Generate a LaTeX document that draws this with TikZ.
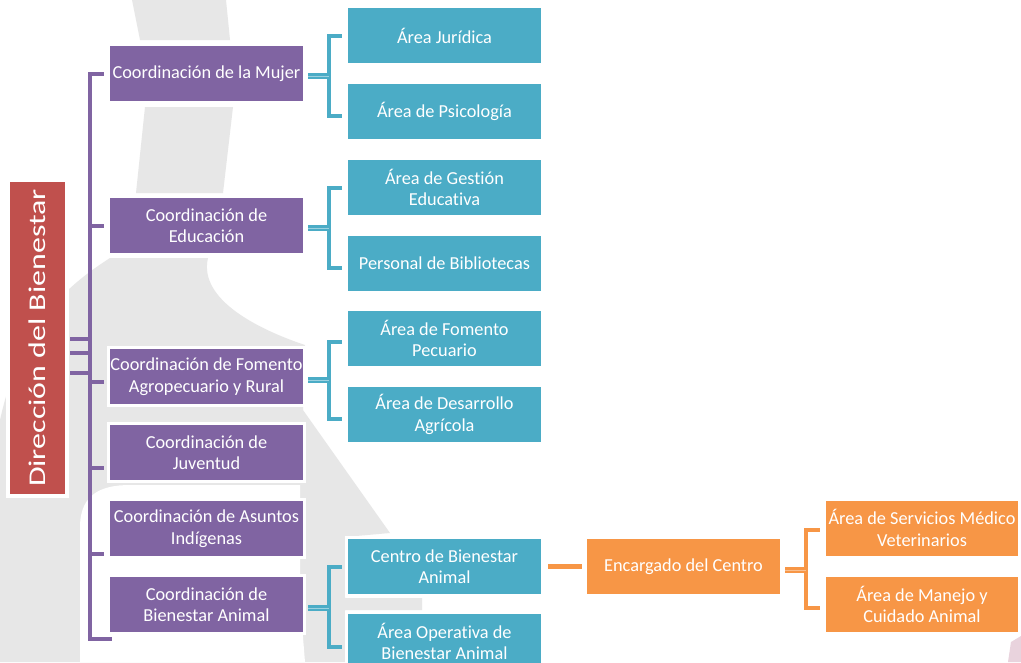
\documentclass[tikz,border=0pt]{standalone}
\usepackage{fontspec}
\setmainfont{Carlito}[Ligatures=NoCommon]
\usetikzlibrary{calc}
\definecolor{cpur}{HTML}{8064A2}
\definecolor{ctea}{HTML}{4BACC6}
\definecolor{cora}{HTML}{F79646}
\definecolor{cred}{HTML}{C0504D}
\definecolor{cwm}{HTML}{E7E7E7}
\definecolor{cpink}{HTML}{E9D3DD}
\begin{document}
\begin{tikzpicture}[x=1pt,y=-1pt,
  box/.style={rectangle, inner sep=0pt, minimum width=193pt, minimum height=55pt,
    align=center, text=white, font=\fontsize{18.3}{21.5}\selectfont,
    preaction={draw=white,line width=6pt}},
  pbox/.style={box, fill=cpur},
  tbox/.style={box, fill=ctea},
  obox/.style={box, fill=cora},
  rootbox/.style={rectangle, inner sep=0pt, minimum width=312pt, minimum height=55pt,
    fill=cred, text=white, preaction={draw=white,line width=8pt}},
  pline/.style={draw=cpur, line width=4pt},
  tline/.style={draw=ctea, line width=4pt},
  oline/.style={draw=cora, line width=4.5pt},
  tfeed/.style={draw=ctea, line width=2.5pt, double=ctea!55!white, double distance=0.8pt},
  ofeed/.style={draw=cora, line width=2.5pt, double=cora!60!white, double distance=0.8pt}]
\useasboundingbox (0,0) rectangle (1021,662);
\clip (0,0) rectangle (1021,662);
\fill[white] (0,0) rectangle (1021,662);
% watermark
\fill[cwm] (132,0) -- (226,0) -- (230,40) -- (140,40) -- cycle;
\fill[cwm] (145,107) -- (233,107) -- (223,193) -- (136,193) -- cycle;
\fill[cwm] (110,258) -- (208,258) .. controls (198,300) and (260,330) .. (305,345)
  -- (303,410) -- (390,533) -- (345,537) -- (345,598) -- (422,598) -- (422,610)
  -- (345,610) -- (345,662) -- (0,662) -- (0,420) .. controls (20,330) and (60,290) .. (110,258) -- cycle;
\fill[white] (80,662) -- (80,525) .. controls (81,495) and (100,485) .. (130,485)
  -- (300,485) -- (300,600) -- (305,662) -- cycle;
\fill[cpink] (1008,662) -- (1011,642) -- (1021,636) -- (1021,662) -- cycle;

% root
\node[rootbox, rotate=90] (root) at (37.5,338)
  {\raisebox{1pt}{\scalebox{1.33}[1]{\fontsize{24}{24}\selectfont Dirección del Bienestar}}};

% purple level
\node[pbox] (m1) at (206.5,73.5) {Coordinación de la Mujer};
\node[pbox] (m2) at (206.5,225.5) {Coordinación de\\Educación};
\node[pbox] (m3) at (206.5,376.5) {Coordinación de Fomento\\Agropecuario y Rural};
\node[pbox] (m4) at (206.5,452.5) {Coordinación de\\Juventud};
\node[pbox] (m5) at (206.5,528.5) {Coordinación de Asuntos\\Indígenas};
\node[pbox] (m6) at (206.5,604.5) {Coordinación de\\Bienestar Animal};

% teal level
\node[tbox] (t1) at (444.5,35.5) {Área Jurídica};
\node[tbox] (t2) at (444.5,111.5) {Área de Psicología};
\node[tbox] (t3) at (444.5,187.5) {Área de Gestión\\Educativa};
\node[tbox] (t4) at (444.5,263.5) {Personal de Bibliotecas};
\node[tbox] (t5) at (444.5,338.5) {Área de Fomento\\Pecuario};
\node[tbox] (t6) at (444.5,414.5) {Área de Desarrollo\\Agrícola};
\node[tbox] (t7) at (444.5,566.5) {Centro de Bienestar\\Animal};
\node[tbox] (t8) at (444.5,641.5) {Área Operativa de\\Bienestar Animal};

% orange level
\node[obox] (o1) at (683.5,566.5) {Encargado del Centro};
\node[obox, minimum width=192pt] (o2) at (922,528) {Área de Servicios Médico\\Veterinarios};
\node[obox, minimum width=192pt] (o3) at (922,604.5) {Área de Manejo y\\Cuidado Animal};

% root ticks
\draw[pline] ([xshift=5pt,yshift=-1pt]root.south) -- ++(20,0);
\draw[pline] ([xshift=5pt,yshift=-15pt]root.south) -- ++(20,0);
\draw[pline] ([xshift=5pt,yshift=-35pt]root.south) -- ++(20,0);

% purple trunk
\coordinate (tkb) at ($(m6.west)+(-20,34.5)$);
\draw[pline] ([xshift=-6pt]m1.west) -| (tkb) -- ++(22,0);
\draw[pline] (m2.west) ++(-6,0) -- ++(-14,0);
\draw[pline] ([yshift=-5.5pt]m3.west) ++(-6,0) -- ++(-14,0);
\draw[pline] ([yshift=-15.5pt]m4.west) ++(-6,0) -- ++(-14,0);
\draw[pline] ([yshift=-25.5pt]m5.west) ++(-6,0) -- ++(-14,0);

% teal brackets
\coordinate (b1) at ($(m1.east)+(26,0)$);
\coordinate (b2) at ($(m2.east)+(26,0)$);
\coordinate (b3) at ($(m3.east)+(26,0)$);
\coordinate (b4) at ($(m6.east)+(26,0)$);
\draw[tline] ([xshift=-6pt]t1.west) -| (b1) |- ([xshift=-6pt,yshift=-4pt]t2.west);
\draw[tline] ([xshift=-6pt]t3.west) -| (b2) |- ([xshift=-6pt,yshift=-4pt]t4.west);
\draw[tline] ([xshift=-6pt,yshift=-3pt]t5.west) -| (b3) |- ([xshift=-6pt,yshift=-4.5pt]t6.west);
\draw[tline] ([xshift=-6pt]t7.west) -| (b4) |- ([xshift=-6pt,yshift=-5.5pt]t8.west);
\draw[tfeed] ([yshift=-2.5pt]m1.east) ++(5,0) -- ++(21,0);
\draw[tfeed] ([yshift=-2.5pt]m2.east) ++(5,0) -- ++(21,0);
\draw[tfeed] ([yshift=-3.5pt]m3.east) ++(5,0) -- ++(21,0);
\draw[tfeed] ([yshift=-3.5pt]m6.east) ++(5,0) -- ++(21,0);

% orange
\draw[oline] ([xshift=7pt]t7.east) -- ([xshift=-5pt]o1.west);
\coordinate (b5) at ($(o1.east)+(26,0)$);
\draw[oline, line width=4pt] ([xshift=-6pt,yshift=-2pt]o2.west) -| (b5) |- ([xshift=-6pt,yshift=-3.5pt]o3.west);
\draw[ofeed] ([yshift=-3.5pt]o1.east) ++(5,0) -- ++(21,0);
\end{tikzpicture}
\end{document}
